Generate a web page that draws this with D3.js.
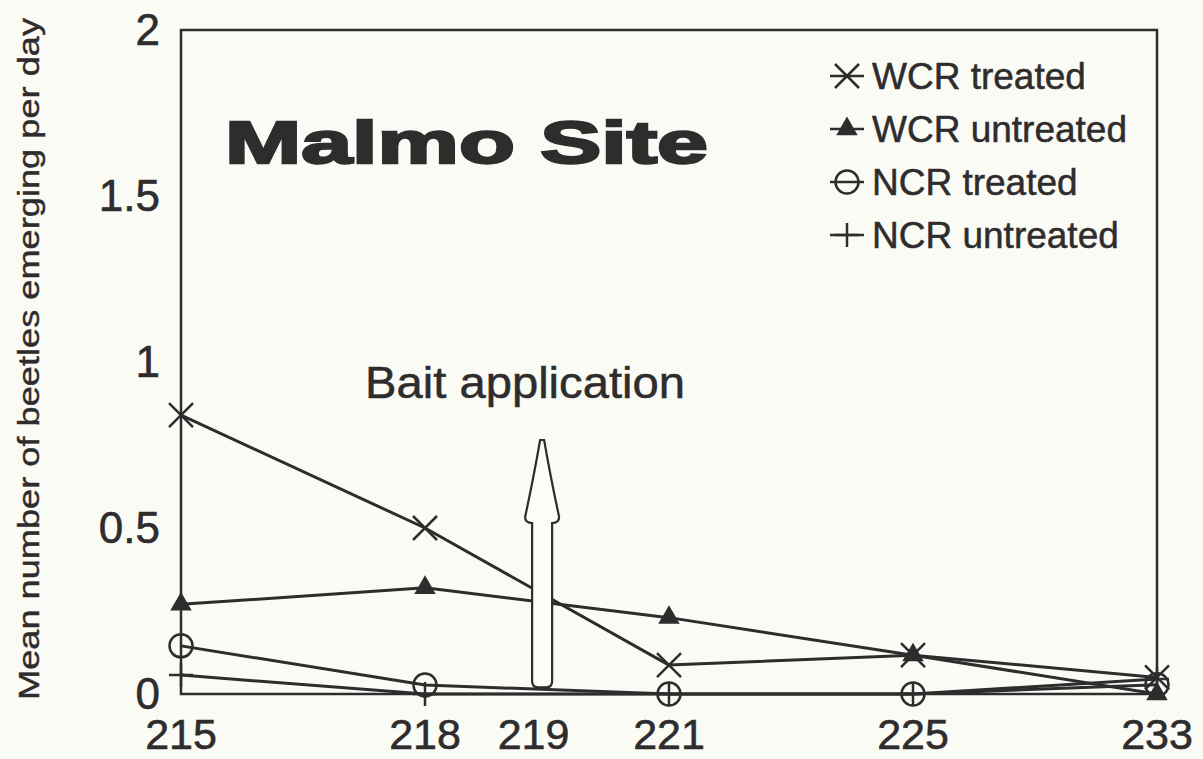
<!DOCTYPE html>
<html>
<head>
<meta charset="utf-8">
<script src="https://cdn.jsdelivr.net/npm/d3@7"></script>
<style>
  html, body { margin: 0; padding: 0; background: #fbfbf6; }
  svg { display: block; font-family: "Liberation Sans", Arial, sans-serif; }
</style>
</head>
<body>
<div id="chart"></div>
<script>
// data
const days = [215, 218, 221, 225, 233];
const wcrTreated   = [0.84, 0.50, 0.087, 0.117, 0.05];
const wcrUntreated = [0.27, 0.32, 0.23, 0.117, 0.0];
const ncrTreated   = [0.145, 0.027, 0.0, 0.0, 0.028];
const ncrUntreated = [0.057, 0.0, 0.0, 0.0, 0.045];
const seriesNames  = ["WCR treated", "WCR untreated", "NCR treated", "NCR untreated"];
const yTicks = [0, 0.5, 1, 1.5, 2];
// bait application day sits between 218 and 221 on the index axis
const baitDay = 219;
const baitIndex = 1.48;
const baitRange = [0.02, 0.765];

const W = 1203, H = 759;
const margin = {left: 181, top: 30, right: 46, bottom: 65};
const ink = "#2e2c2c";

const svg = d3.select("#chart").append("svg")
  .attr("width", W)
  .attr("height", H);

svg.append("rect").attr("width", W).attr("height", H).attr("fill", "#fbfbf6");

// index scale, points are evenly spaced in the original
const x = d3.scaleLinear().domain([0, days.length - 1]).range([margin.left, W - margin.right]);
const y = d3.scaleLinear().domain([0, 2]).range([H - margin.bottom, margin.top]);

// frame
svg.append("rect")
  .attr("x", x(0)).attr("y", y(2))
  .attr("width", x(4) - x(0)).attr("height", y(0) - y(2))
  .attr("fill", "none").attr("stroke", ink).attr("stroke-width", 2.5);

// y tick labels
svg.append("g").selectAll("text")
  .data(yTicks)
  .enter().append("text")
  .attr("x", 160)
  .attr("y", d => y(d))
  .attr("dy", "0.35em")
  .attr("text-anchor", "end")
  .attr("font-size", 44)
  .attr("fill", ink)
  .attr("stroke", ink).attr("stroke-width", 0.6)
  .text(d => d3.format("~g")(d));

// x tick labels (including the bait day)
const xLabels = days.map((d, i) => ({label: d, idx: i}));
xLabels.splice(2, 0, {label: baitDay, idx: baitIndex - 0.035});
svg.append("g").selectAll("text")
  .data(xLabels)
  .enter().append("text")
  .attr("x", d => x(d.idx))
  .attr("y", 749)
  .attr("text-anchor", "middle")
  .attr("font-size", 43)
  .attr("fill", ink)
  .attr("stroke", ink).attr("stroke-width", 0.6)
  .text(d => d.label);

// y axis title
svg.append("text")
  .attr("transform", `translate(39, ${(18 + 700) / 2}) rotate(-90)`)
  .attr("text-anchor", "middle")
  .attr("font-size", 30)
  .attr("textLength", 682)
  .attr("lengthAdjust", "spacingAndGlyphs")
  .attr("fill", ink)
  .attr("stroke", ink).attr("stroke-width", 0.4)
  .text("Mean number of beetles emerging per day");

// site title
svg.append("text")
  .attr("x", 225).attr("y", 163)
  .attr("font-size", 60)
  .attr("font-weight", "bold")
  .attr("textLength", 483)
  .attr("lengthAdjust", "spacingAndGlyphs")
  .attr("fill", ink)
  .attr("stroke", ink).attr("stroke-width", 2.4)
  .text("Malmo Site");

// series lines
const allSeries = [wcrTreated, wcrUntreated, ncrTreated, ncrUntreated];
const line = d3.line().x((d, i) => x(i)).y(d => y(d));
svg.append("g").selectAll("path")
  .data(allSeries)
  .enter().append("path")
  .attr("d", line)
  .attr("fill", "none")
  .attr("stroke", ink)
  .attr("stroke-width", 3)
  .attr("stroke-linejoin", "round");

// marker drawing
function drawMarker(g, kind, cx, cy) {
  if (kind === 0) {
    const s = 12;
    g.append("path").attr("d", `M${cx - s},${cy - s}L${cx + s},${cy + s}M${cx - s},${cy + s}L${cx + s},${cy - s}`)
      .attr("stroke", ink).attr("stroke-width", 2.5).attr("fill", "none");
  } else if (kind === 1) {
    g.append("path").attr("d", d3.symbol(d3.symbolTriangle, 200)())
      .attr("transform", `translate(${cx},${cy})`)
      .attr("fill", ink);
  } else if (kind === 2) {
    g.append("circle").attr("cx", cx).attr("cy", cy).attr("r", 11.5)
      .attr("fill", "none").attr("stroke", ink).attr("stroke-width", 2.5);
  } else {
    const s = 12;
    g.append("path").attr("d", `M${cx - s},${cy}L${cx + s},${cy}M${cx},${cy - s}L${cx},${cy + s}`)
      .attr("stroke", ink).attr("stroke-width", 2.5).attr("fill", "none");
  }
}

const markers = svg.append("g");
allSeries.forEach((vals, k) => {
  vals.forEach((v, i) => drawMarker(markers, k, x(i), y(v)));
});

// bait application arrow (white filled, covers the lines)
const ax = x(baitIndex);
const yb = y(baitRange[0]), yt = y(baitRange[1]);
const shaftHalf = 10, headHalf = 17, headBase = yt + 83;
const arrowPath = `M${ax - shaftHalf},${yb - 6}
  L${ax - shaftHalf},${headBase}
  Q${ax - headHalf},${headBase} ${ax - headHalf},${headBase - 6}
  Q${ax - 8},${yt + 35} ${ax - 2},${yt}
  L${ax + 2},${yt}
  Q${ax + 8},${yt + 35} ${ax + headHalf},${headBase - 6}
  Q${ax + headHalf},${headBase} ${ax + shaftHalf},${headBase}
  L${ax + shaftHalf},${yb - 6}
  Q${ax + shaftHalf},${yb} ${ax + 4},${yb}
  L${ax - 4},${yb}
  Q${ax - shaftHalf},${yb} ${ax - shaftHalf},${yb - 6}Z`;
svg.append("path")
  .attr("d", arrowPath)
  .attr("fill", "#fdfdfa")
  .attr("stroke", ink)
  .attr("stroke-width", 2.2);

svg.append("text")
  .attr("x", 365).attr("y", 398)
  .attr("font-size", 44)
  .attr("textLength", 320)
  .attr("lengthAdjust", "spacingAndGlyphs")
  .attr("fill", ink)
  .attr("stroke", ink).attr("stroke-width", 0.5)
  .text("Bait application");

// legend
const legendY = [76, 129, 182, 235];
const legend = svg.append("g");
seriesNames.forEach((name, k) => {
  const ly = legendY[k];
  legend.append("line")
    .attr("x1", 830).attr("x2", 864).attr("y1", ly).attr("y2", ly)
    .attr("stroke", ink).attr("stroke-width", 2.5);
  drawMarker(legend, k, 847, ly);
  legend.append("text")
    .attr("x", 872).attr("y", ly)
    .attr("dy", "0.36em")
    .attr("font-size", 37)
    .attr("fill", ink)
    .attr("stroke", ink).attr("stroke-width", 0.5)
    .text(name);
});
</script>
</body>
</html>
